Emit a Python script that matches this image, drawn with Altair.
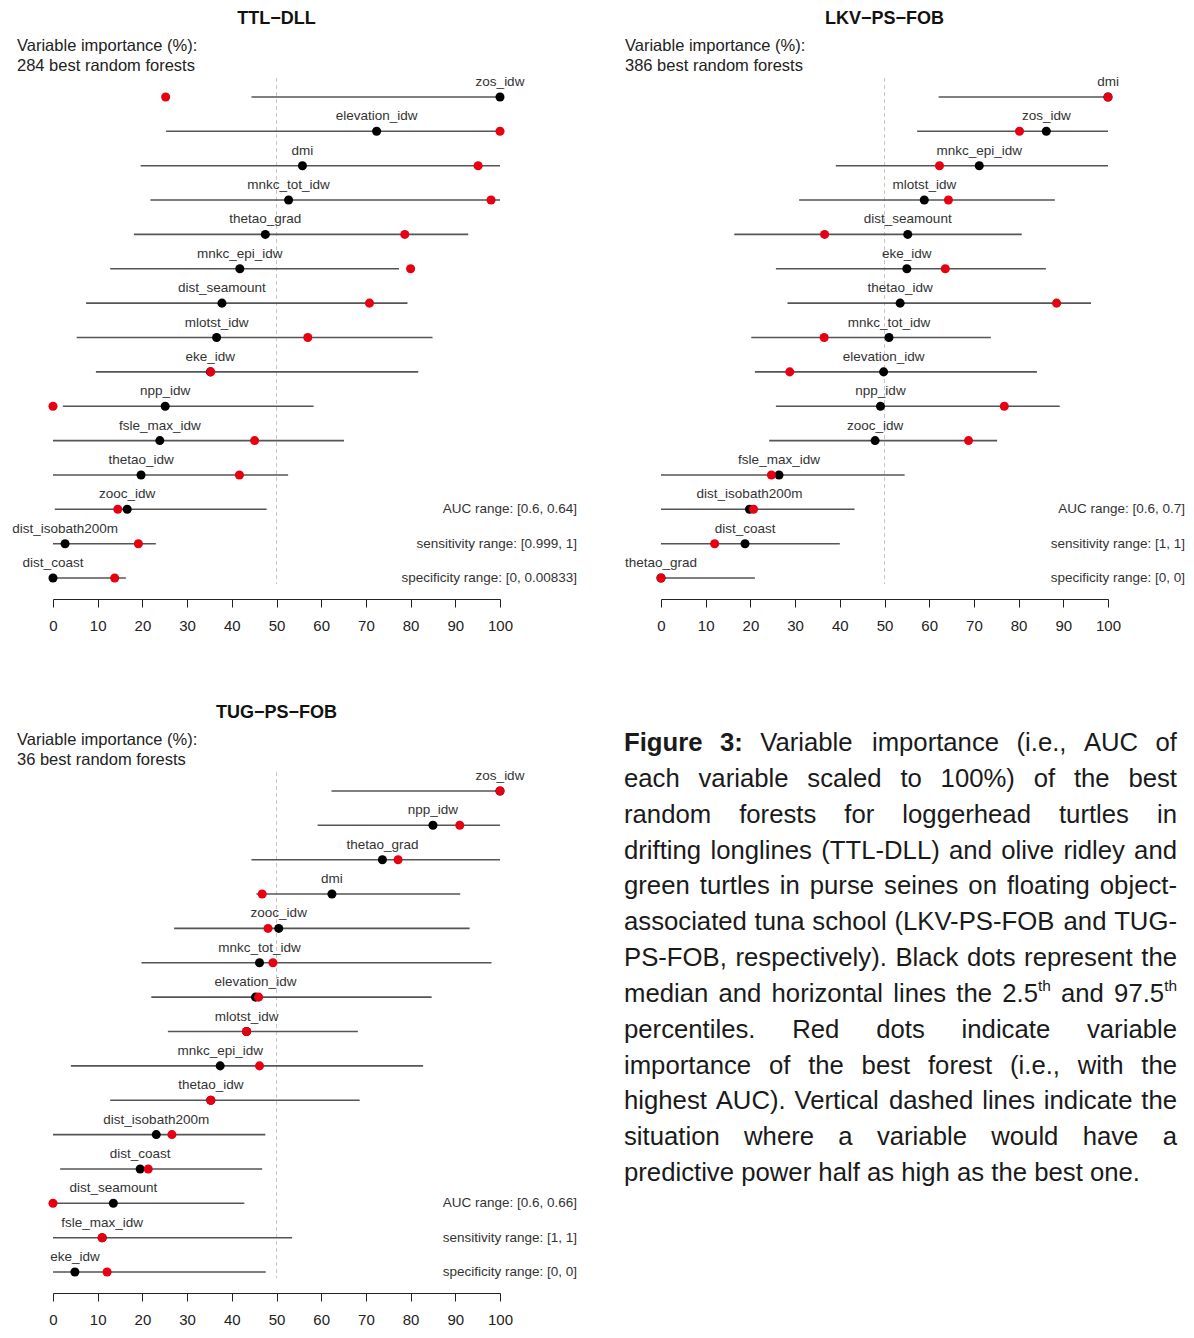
import altair as alt
import pandas as pd

# ---------------- data ----------------
ttl_vars = ["zos_idw", "elevation_idw", "dmi", "mnkc_tot_idw", "thetao_grad", "mnkc_epi_idw",
            "dist_seamount", "mlotst_idw", "eke_idw", "npp_idw", "fsle_max_idw", "thetao_idw",
            "zooc_idw", "dist_isobath200m", "dist_coast"]
ttl_lo = [44.4, 25.3, 19.6, 21.8, 18.1, 12.8, 7.4, 5.3, 9.6, 2.2, 0.0, 0.0, 0.4, 0.0, 0.0]
ttl_hi = [100, 100, 100, 100, 92.9, 77.4, 79.3, 84.9, 81.7, 58.3, 65.1, 52.6, 47.8, 23.0, 16.3]
ttl_med = [100, 72.4, 55.8, 52.7, 47.5, 41.8, 37.8, 36.6, 35.2, 25.1, 23.9, 19.7, 16.6, 2.7, 0.0]
ttl_best = [25.2, 100, 95.1, 98.0, 78.7, 80.0, 70.8, 57.0, 35.3, 0.0, 45.1, 41.7, 14.5, 19.1, 13.8]
ttl_stats = ["AUC range: [0.6, 0.64]", "sensitivity range: [0.999, 1]", "specificity range: [0, 0.00833]"]
ttl_n = 284

lkv_vars = ["dmi", "zos_idw", "mnkc_epi_idw", "mlotst_idw", "dist_seamount", "eke_idw",
            "thetao_idw", "mnkc_tot_idw", "elevation_idw", "npp_idw", "zooc_idw", "fsle_max_idw",
            "dist_isobath200m", "dist_coast", "thetao_grad"]
lkv_lo = [62.1, 57.3, 39.1, 30.9, 16.4, 25.7, 28.3, 20.2, 21.0, 25.7, 24.2, 0.0, 0.0, 0.0, 0.0]
lkv_hi = [100, 100, 100, 88.1, 80.7, 86.1, 96.2, 73.8, 84.1, 89.2, 75.2, 54.5, 43.3, 40.0, 21.0]
lkv_med = [100, 86.2, 71.2, 58.9, 55.2, 55.0, 53.5, 51.0, 49.8, 49.1, 47.9, 26.4, 19.8, 18.8, 0.0]
lkv_best = [100, 80.2, 62.3, 64.3, 36.6, 63.6, 88.5, 36.5, 28.8, 76.8, 68.8, 24.7, 20.7, 12.0, 0.0]
lkv_stats = ["AUC range: [0.6, 0.7]", "sensitivity range: [1, 1]", "specificity range: [0, 0]"]
lkv_n = 386

tug_vars = ["zos_idw", "npp_idw", "thetao_grad", "dmi", "zooc_idw", "mnkc_tot_idw",
            "elevation_idw", "mlotst_idw", "mnkc_epi_idw", "thetao_idw", "dist_isobath200m",
            "dist_coast", "dist_seamount", "fsle_max_idw", "eke_idw"]
tug_lo = [62.3, 59.2, 44.4, 45.5, 27.1, 19.8, 22.0, 25.7, 4.0, 12.8, 0.0, 1.6, 0.0, 0.0, 0.0]
tug_hi = [100, 100, 100, 91.1, 93.2, 98.1, 84.7, 68.2, 82.8, 68.6, 47.5, 46.8, 42.8, 53.5, 47.6]
tug_med = [100, 85.0, 73.7, 62.4, 50.5, 46.2, 45.3, 43.3, 37.4, 35.3, 23.1, 19.5, 13.5, 11.0, 4.9]
tug_best = [100, 91.0, 77.2, 46.8, 48.1, 49.2, 46.0, 43.3, 46.2, 35.3, 26.6, 21.3, 0.0, 11.0, 12.1]
tug_stats = ["AUC range: [0.6, 0.66]", "sensitivity range: [1, 1]", "specificity range: [0, 0]"]
tug_n = 36

half_line = [50]
tick_values = list(range(0, 101, 10))

caption_bold = "Figure 3:"
caption_lines = [
    "Variable importance (i.e., AUC of",
    "each variable scaled to 100%) of the best",
    "random forests for loggerhead turtles in",
    "drifting longlines (TTL-DLL) and olive ridley and",
    "green turtles in purse seines on floating object-",
    "associated tuna school (LKV-PS-FOB and TUG-",
    "PS-FOB, respectively). Black dots represent the",
    "median and horizontal lines the 2.5^th and 97.5^th",
    "percentiles. Red dots indicate variable",
    "importance of the best forest (i.e., with the",
    "highest AUC). Vertical dashed lines indicate the",
    "situation where a variable would have a",
    "predictive power half as high as the best one.",
]

# ---------------- styling ----------------
PW, PH = 447, 523
ROW_GAP = 171
PAD = 0.61
STEP = PH / (14 + 2 * PAD)
FONT = "Liberation Sans"
RED = "#e60012"

x_scale = alt.Scale(domain=[0, 100], nice=False, zero=False)
x_axis = alt.Axis(values=tick_values, grid=False, title=None, domainColor="#222",
                  tickColor="#222", tickSize=8, tickWidth=1, domainWidth=1,
                  labelFontSize=15, labelColor="#222", labelFont=FONT, labelPadding=11,
                  labelFlush=False)


def text_layer(s, x, y, **kw):
    return alt.Chart(pd.DataFrame({"t": [s]})).mark_text(font=FONT, baseline="middle", **kw).encode(
        x=alt.value(x), y=alt.value(y), text="t:N")


def panel(title, n, names, lo, hi, med, best, stats):
    df = pd.DataFrame({"var": names, "lo": lo, "hi": hi, "med": med, "best": best})
    y = alt.Y("var:N", sort=names, axis=None, scale=alt.Scale(type="point", padding=PAD))
    base = alt.Chart(df)
    rng = base.mark_rule(color="#555555", strokeWidth=1.6).encode(
        x=alt.X("lo:Q", scale=x_scale, axis=x_axis), x2="hi:Q", y=y)
    black = base.mark_circle(color="black", size=82, opacity=1).encode(
        x=alt.X("med:Q", scale=x_scale, axis=x_axis), y=y)
    red = base.mark_circle(color=RED, size=82, opacity=1).encode(
        x=alt.X("best:Q", scale=x_scale, axis=x_axis), y=y)
    labels = base.mark_text(dy=-15, fontSize=13.5, color="#333333", font=FONT).encode(
        x=alt.X("med:Q", scale=x_scale, axis=x_axis), y=y, text="var:N")
    dashed = alt.Chart(pd.DataFrame({"h": half_line})).mark_rule(
        color="#c8c8c8", strokeDash=[4, 3], strokeWidth=1).encode(
        x=alt.X("h:Q", scale=x_scale, axis=x_axis), y=alt.value(2), y2=alt.value(PH - 15))
    layers = [dashed, rng, black, red, labels,
              text_layer(title, PW / 2, -57, fontSize=18, fontWeight="bold", color="#111"),
              text_layer("Variable importance (%):", -36, -30, fontSize=16.5, color="#222", align="left"),
              text_layer(f"{n} best random forests", -36, -10, fontSize=16.5, color="#222", align="left")]
    for k, s in enumerate(stats):
        layers.append(text_layer(s, 524, STEP * (PAD + 12 + k), fontSize=13.5, color="#333", align="right"))
    return alt.layer(*layers).properties(width=PW, height=PH)


p1 = panel("TTL\u2212DLL", ttl_n, ttl_vars, ttl_lo, ttl_hi, ttl_med, ttl_best, ttl_stats)
p2 = panel("LKV\u2212PS\u2212FOB", lkv_n, lkv_vars, lkv_lo, lkv_hi, lkv_med, lkv_best, lkv_stats)
p3 = panel("TUG\u2212PS\u2212FOB", tug_n, tug_vars, tug_lo, tug_hi, tug_med, tug_best, tug_stats)

# ---------------- caption (justified text layout, Arial/Liberation metrics) ----------------
AR = {" ": 278, "%": 889, "(": 333, ")": 333, ",": 278, "-": 333, ".": 278, ":": 278, ";": 278,
      "A": 667, "B": 667, "C": 722, "D": 722, "E": 667, "F": 611, "G": 778, "H": 722, "I": 278,
      "K": 667, "L": 556, "M": 833, "N": 722, "O": 778, "P": 667, "R": 722, "S": 667, "T": 611,
      "U": 722, "V": 667, "W": 944,
      "a": 556, "b": 556, "c": 500, "d": 556, "e": 556, "f": 278, "g": 556, "h": 556, "i": 222,
      "j": 222, "k": 500, "l": 222, "m": 833, "n": 556, "o": 556, "p": 556, "q": 556, "r": 333,
      "s": 500, "t": 278, "u": 556, "v": 500, "w": 722, "x": 500, "y": 500, "z": 500}
ARB = {"F": 611, "i": 278, "g": 611, "u": 611, "r": 389, "e": 556, "3": 556, ":": 333, " ": 278}


def em(s, table):
    return sum(table.get(c, 556) for c in s) / 1000.0


CW = 553
CX0 = -37  # caption starts left of the second column's plot edge
SUP = 0.6
tok_lines = []
for i, ln in enumerate(caption_lines):
    toks = []
    if i == 0:
        for w in caption_bold.split(" "):
            toks.append((w, "", "b"))
    for w in ln.split(" "):
        if "^" in w:
            b, s = w.split("^")
            toks.append((b, s, "n"))
        else:
            toks.append((w, "", "n"))
    tok_lines.append(toks)


def tok_em(t):
    return em(t[0], ARB if t[2] == "b" else AR) + SUP * em(t[1], AR)


nat = [sum(tok_em(t) for t in toks) + 0.278 * (len(toks) - 1) for toks in tok_lines[:-1]]
FS = min(26.0, 0.995 * CW / max(nat))

rows = []
for i, toks in enumerate(tok_lines):
    widths = [tok_em(t) * FS for t in toks]
    if i < len(tok_lines) - 1:
        gap = (CW - sum(widths)) / (len(toks) - 1)
    else:
        gap = 0.278 * FS
    x = CX0
    for t, wpx in zip(toks, widths):
        rows.append({"line": i, "x": x, "text": t[0], "style": t[2]})
        if t[1]:
            rows.append({"line": i, "x": x + em(t[0], AR) * FS, "text": t[1], "style": "s"})
        x += wpx + gap
cap_df = pd.DataFrame(rows)

cy = alt.Y("line:Q", axis=None, scale=alt.Scale(domain=[0, 12], range=[-27, 403]))
cx = alt.X("x:Q", axis=None, scale=None)
cbase = alt.Chart(cap_df)
cap_n = cbase.transform_filter(alt.datum.style == "n").mark_text(
    align="left", baseline="middle", fontSize=FS, font=FONT, color="#1a1a1a").encode(x=cx, y=cy, text="text:N")
cap_b = cbase.transform_filter(alt.datum.style == "b").mark_text(
    align="left", baseline="middle", fontSize=FS, font=FONT, fontWeight="bold", color="#1a1a1a").encode(x=cx, y=cy, text="text:N")
cap_s = cbase.transform_filter(alt.datum.style == "s").mark_text(
    align="left", baseline="middle", fontSize=FS * SUP, dy=-8, font=FONT, color="#1a1a1a").encode(x=cx, y=cy, text="text:N")
caption = alt.layer(cap_n, cap_b, cap_s).properties(width=PW, height=PH)

chart = alt.concat(p1, p2, p3, caption, columns=2, bounds="flush",
                   spacing={"row": ROW_GAP, "column": 161}).properties(
    padding={"left": 4, "top": 2, "right": 0, "bottom": 0}, background="white"
).configure_view(stroke=None)

chart.save("out.html", embed_options={"renderer": "svg", "actions": False})
